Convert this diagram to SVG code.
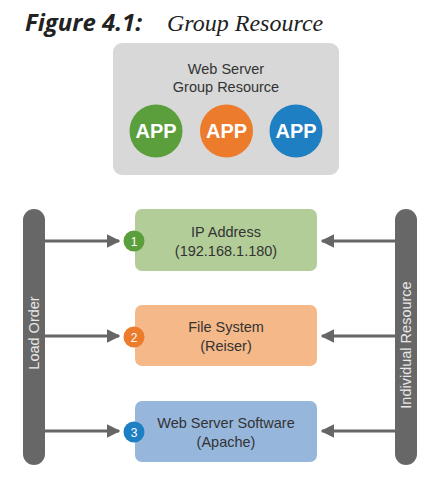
<svg xmlns="http://www.w3.org/2000/svg" width="436" height="480" viewBox="0 0 436 480">
<defs>
<style>
.lbl{font-family:"Liberation Sans",Arial,sans-serif;font-size:14.5px;fill:#333;text-anchor:middle}
.app{font-family:"Liberation Sans",Arial,sans-serif;font-size:20px;font-weight:bold;fill:#fff;text-anchor:middle}
.bar{fill:#676767}
.barlbl{font-family:"Liberation Sans",Arial,sans-serif;font-size:14.5px;fill:#e8e8e8;text-anchor:middle}
.badge{font-family:"Liberation Sans",Arial,sans-serif;font-size:12px;fill:#fff;text-anchor:middle}
.conn{stroke:#666;stroke-width:3;fill:none}
</style>
<marker id="ah" viewBox="0 0 10 10" refX="9" refY="5" markerWidth="4.5" markerHeight="4.5" orient="auto">
<path d="M0,0 L10,5 L0,10 z" fill="#666"/>
</marker>
</defs>
<rect width="436" height="480" fill="#fff"/>
<g id="title">
<text x="25" y="31" font-family="'Open Sans','DejaVu Sans',sans-serif" font-size="24" font-weight="bold" font-style="italic" fill="#222">Figure 4.1:</text>
<text x="167" y="31" font-family="'Liberation Serif','Times New Roman',serif" font-size="24" font-style="italic" fill="#222">Group Resource</text>
</g>
<g id="group">
<rect x="113" y="43" width="226" height="132" rx="9" fill="#d8d8d8"/>
<text class="lbl" x="226" y="74">Web Server</text>
<text class="lbl" x="226" y="92">Group Resource</text>
<circle cx="156" cy="131" r="26.5" fill="#5b9e3c"/>
<text class="app" x="156" y="138">APP</text>
<circle cx="226.5" cy="131" r="26.5" fill="#ec7b2c"/>
<text class="app" x="226.5" y="138">APP</text>
<circle cx="296" cy="131" r="26.5" fill="#1f7fc3"/>
<text class="app" x="296" y="138">APP</text>
</g>
<g id="load-order">
<rect class="bar" x="23" y="209" width="22" height="256" rx="11"/>
<text class="barlbl" transform="translate(39,333) rotate(-90)">Load Order</text>
</g>
<g id="individual-resource">
<rect class="bar" x="395" y="209" width="22" height="256" rx="11"/>
<text class="barlbl" transform="translate(411,345) rotate(-90)">Individual Resource</text>
</g>
<g id="connectors">
<line class="conn" x1="45" y1="241" x2="119" y2="241" marker-end="url(#ah)"/>
<line class="conn" x1="45" y1="336" x2="119" y2="336" marker-end="url(#ah)"/>
<line class="conn" x1="45" y1="431" x2="119" y2="431" marker-end="url(#ah)"/>
<line class="conn" x1="395" y1="241" x2="322" y2="241" marker-end="url(#ah)"/>
<line class="conn" x1="395" y1="336" x2="322" y2="336" marker-end="url(#ah)"/>
<line class="conn" x1="395" y1="431" x2="322" y2="431" marker-end="url(#ah)"/>
</g>
<g id="ip">
<rect x="135" y="209" width="182" height="62" rx="7" fill="#b2cd98"/>
<text class="lbl" x="226" y="237">IP Address</text>
<text class="lbl" x="226" y="256">(192.168.1.180)</text>
<circle cx="134" cy="241" r="10.5" fill="#5b9e3c"/>
<text class="badge" x="134" y="245.5">1</text>
</g>
<g id="fs">
<rect x="135" y="305" width="182" height="61" rx="7" fill="#f5b888"/>
<text class="lbl" x="226" y="332">File System</text>
<text class="lbl" x="226" y="351">(Reiser)</text>
<circle cx="134" cy="337" r="10.5" fill="#ec7b2c"/>
<text class="badge" x="134" y="341.5">2</text>
</g>
<g id="ws">
<rect x="135" y="401" width="182" height="61" rx="7" fill="#97b6dc"/>
<text class="lbl" x="226" y="428">Web Server Software</text>
<text class="lbl" x="226" y="447">(Apache)</text>
<circle cx="134" cy="432" r="10.5" fill="#1f7fc3"/>
<text class="badge" x="134" y="436.5">3</text>
</g>
</svg>
